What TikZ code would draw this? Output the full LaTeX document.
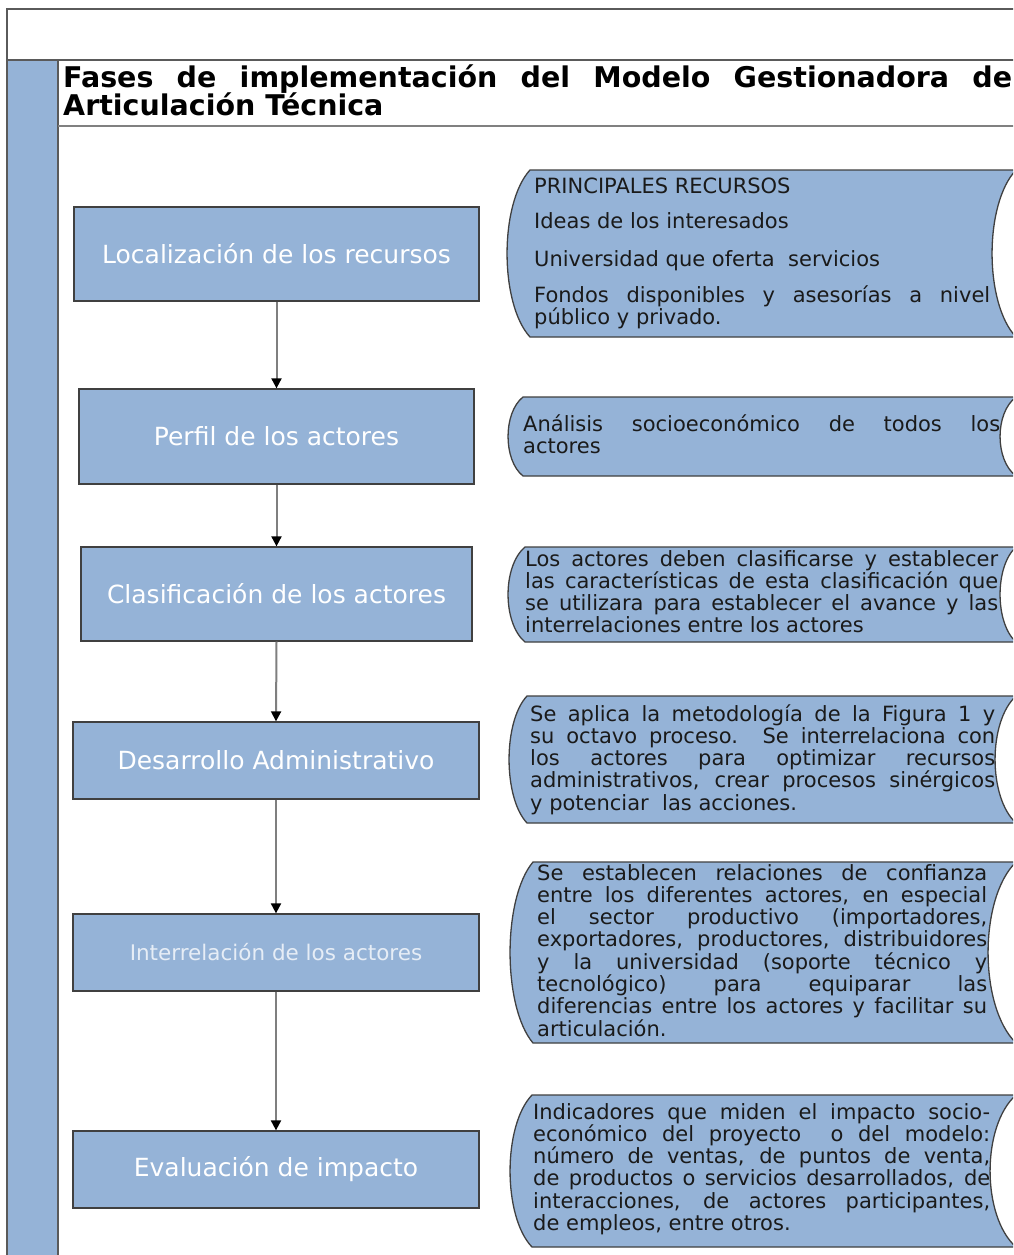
\documentclass[tikz,border=0pt]{standalone}
\usepackage{fontspec}
\setmainfont{DejaVu Sans}
\usetikzlibrary{arrows.meta}
\definecolor{boxblue}{HTML}{95B3D7}
\definecolor{frameclr}{HTML}{5A5A5A}
\definecolor{edgeclr}{HTML}{404040}
\definecolor{txtclr}{HTML}{1A1A1A}
\definecolor{softwhite}{HTML}{E6EDF6}
\definecolor{flowclr}{HTML}{7F7F7F}
\newcommand\jline[1]{\makebox[\linewidth][s]{#1}\\}
\newcommand\descfont{\fontsize{21}{22.3}\selectfont}
% L T B d e
\newcommand\storeshape[5]{%
  \path[store] (#1,#2) -- (1016,#2)
    .. controls ({1016-1.33*#5},{#2+0.2*(#3-#2)}) and ({1016-1.33*#5},{#3-0.2*(#3-#2)}) .. (1016,#3)
    -- (#1,#3)
    .. controls ({#1-1.33*#4},{#3-0.2*(#3-#2)}) and ({#1-1.33*#4},{#2+0.2*(#3-#2)}) .. (#1,#2) -- cycle;}
\begin{document}
\begin{tikzpicture}[x=1pt,y=-1pt,
  phase/.style={draw=edgeclr, fill=boxblue, line width=1.3pt, text=white,
    font=\fontsize{25}{30}\selectfont, inner sep=0},
  store/.style={draw=edgeclr, fill=boxblue, line width=1.3pt},
  desc/.style={anchor=base west, inner sep=0, text=txtclr},
  flow/.style={draw=flowclr, line width=2pt, -{Triangle[length=10pt,width=10pt,color=black]}},
  frameline/.style={draw=frameclr, line width=2pt}]
\useasboundingbox (0,0) rectangle (1013,1255);
\clip (0,0) rectangle (1013,1255);
\fill[white] (0,0) rectangle (1013,1255);

% frame and left bar
\fill[boxblue] (7,60) rectangle (58,1260);
\draw[frameline] (7,1260) -- (7,9) -- (1020,9);
\draw[frameline] (7,60) -- (1020,60);
\draw[frameline] (58,60) -- (58,1260);
\draw[draw=gray, line width=2pt] (58,126) -- (1020,126);

% title
\node[anchor=base west, inner sep=0, font=\fontsize{28.5}{28.5}\bfseries\selectfont] (title1) at (63,87)
  {\makebox[949pt][s]{Fases de implementación del Modelo Gestionadora de}};
\node[anchor=base west, inner sep=0, font=\fontsize{28.5}{28.5}\bfseries\selectfont] (title2) at (63,115.5)
  {Articulación Técnica};

% left phase boxes
\node[phase, minimum width=405, minimum height=94] (p1) at (276.5,254) {Localización de los recursos};
\node[phase, minimum width=395, minimum height=95] (p2) at (276.5,436.5) {Perfil de los actores};
\node[phase, minimum width=391, minimum height=94] (p3) at (276.5,594) {Clasificación de los actores};
\node[phase, minimum width=406, minimum height=77] (p4) at (276,760.5) {Desarrollo Administrativo};
\node[phase, minimum width=406, minimum height=77, text=softwhite, font=\fontsize{21.5}{26}\selectfont] (p5) at (276,952.5) {Interrelación de los actores};
\node[phase, minimum width=406, minimum height=77] (p6) at (276,1169.5) {Evaluación de impacto};

\draw[flow] (p1.south) -- (p2.north);
\draw[flow] (p2.south) -- (p3.north);
\draw[flow] (p3.south) -- (p4.north);
\draw[flow] (p4.south) -- (p5.north);
\draw[flow] (p5.south) -- (p6.north);

% right stored-data shapes
\storeshape{530}{170}{337}{23}{24}
\storeshape{523}{397}{476}{15}{16}
\storeshape{525}{547}{642}{17}{16}
\storeshape{527}{696}{823}{18}{21}
\storeshape{533}{862}{1043}{23}{28}
\storeshape{532}{1095}{1247}{22}{26}

\node[desc] (d1) at (534,193) {\parbox[t]{456pt}{\descfont
PRINCIPALES RECURSOS\\[12.7pt]
Ideas de los interesados\\[15.7pt]
Universidad que oferta\ \ servicios\\[13.7pt]
\jline{Fondos disponibles y asesorías a nivel}
público y privado.}};

\node[desc] (d2) at (523,431) {\parbox[t]{477pt}{\descfont
\jline{Análisis socioeconómico de todos los}
actores}};

\node[desc] (d3) at (525,566) {\parbox[t]{473pt}{\descfont
\jline{Los actores deben clasificarse y establecer}
\jline{las características de esta clasificación que}
\jline{se utilizara para establecer el avance y las}
interrelaciones entre los actores}};

\node[desc] (d4) at (530,721) {\parbox[t]{465pt}{\descfont
\jline{Se aplica la metodología de la Figura 1 y}
\jline{su octavo proceso. Se interrelaciona con}
\jline{los actores para optimizar recursos}
\jline{administrativos, crear procesos sinérgicos}
y potenciar\ \ las acciones.}};

\node[desc] (d5) at (537,880) {\parbox[t]{450pt}{\descfont
\jline{Se establecen relaciones de confianza}
\jline{entre los diferentes actores, en especial}
\jline{el sector productivo (importadores,}
\jline{exportadores, productores, distribuidores}
\jline{y la universidad (soporte técnico y}
\jline{tecnológico) para equiparar las}
\jline{diferencias entre los actores y facilitar su}
articulación.}};

\node[desc] (d6) at (533,1119) {\parbox[t]{457pt}{\descfont
\jline{Indicadores que miden el impacto socio-}
\jline{económico del proyecto\ \ o del modelo:}
\jline{número de ventas, de puntos de venta,}
\jline{de productos o servicios desarrollados, de}
\jline{interacciones, de actores participantes,}
de empleos, entre otros.}};
\end{tikzpicture}
\end{document}
